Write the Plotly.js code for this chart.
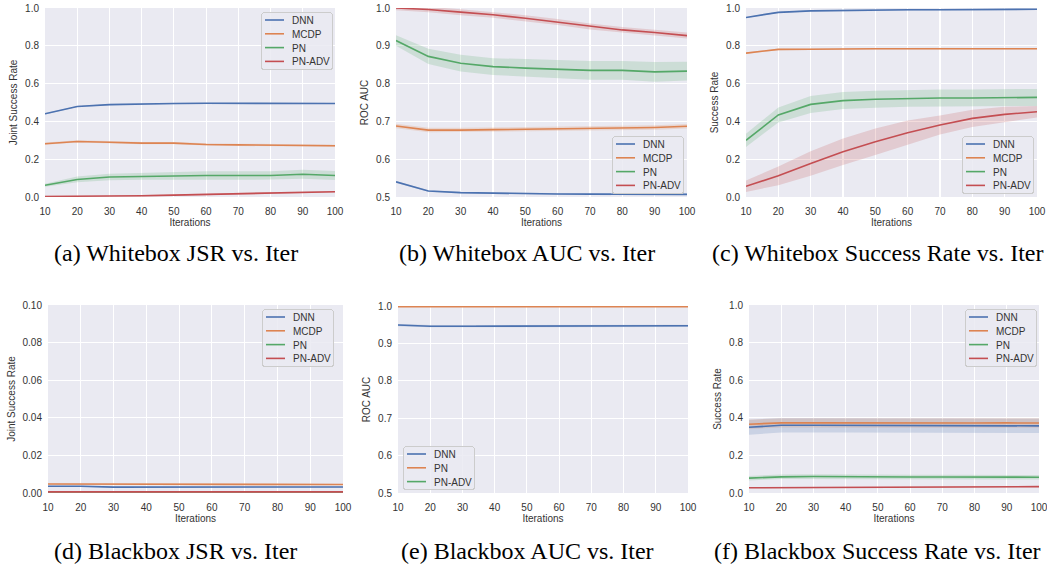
<!DOCTYPE html>
<html>
<head>
<meta charset="utf-8">
<script src="https://cdn.plot.ly/plotly-3.0.1.min.js"></script>
<style>
html,body{margin:0;padding:0;background:#fff;}
#chart{width:1047px;height:564px;}
</style>
</head>
<body>
<div id="chart"></div>
<script>
// ---------- data ----------
const iters = [10, 20, 30, 40, 50, 60, 70, 80, 90, 100];

// (a) Whitebox JSR
const wJsrDNN  = [0.440, 0.479, 0.489, 0.493, 0.495, 0.496, 0.496, 0.497, 0.498, 0.495];
const wJsrDNNErr = [0.003, 0.003, 0.003, 0.003, 0.003, 0.003, 0.003, 0.003, 0.003, 0.003];
const wJsrMCDP = [0.282, 0.294, 0.290, 0.285, 0.285, 0.278, 0.276, 0.273, 0.273, 0.271];
const wJsrMCDPErr = [0.006, 0.006, 0.006, 0.006, 0.006, 0.006, 0.006, 0.006, 0.006, 0.006];
const wJsrPN   = [0.062, 0.093, 0.106, 0.109, 0.113, 0.114, 0.114, 0.114, 0.120, 0.114];
const wJsrPNErr = [0.008, 0.015, 0.017, 0.018, 0.020, 0.022, 0.022, 0.022, 0.024, 0.024];
const wJsrADV  = [0.003, 0.003, 0.005, 0.007, 0.010, 0.013, 0.017, 0.021, 0.023, 0.028];
const wJsrADVErr = [0.003, 0.003, 0.003, 0.004, 0.004, 0.004, 0.004, 0.004, 0.004, 0.004];

// (b) Whitebox AUC
const wAucDNN  = [0.540, 0.516, 0.5115, 0.510, 0.509, 0.508, 0.5075, 0.507, 0.507, 0.507];
const wAucDNNErr = [0.002, 0.002, 0.002, 0.002, 0.002, 0.002, 0.002, 0.002, 0.002, 0.002];
const wAucMCDP = [0.688, 0.677, 0.677, 0.678, 0.679, 0.680, 0.681, 0.683, 0.684, 0.687];
const wAucMCDPErr = [0.006, 0.006, 0.006, 0.006, 0.006, 0.006, 0.006, 0.006, 0.006, 0.006];
const wAucPN   = [0.914, 0.872, 0.854, 0.845, 0.841, 0.838, 0.835, 0.835, 0.831, 0.833];
const wAucPNErr = [0.014, 0.020, 0.022, 0.022, 0.024, 0.024, 0.025, 0.025, 0.026, 0.025];
const wAucADV  = [1.000, 0.996, 0.989, 0.982, 0.973, 0.963, 0.951, 0.942, 0.935, 0.927];
const wAucADVErr = [0.006, 0.007, 0.008, 0.008, 0.008, 0.008, 0.008, 0.008, 0.008, 0.008];

// (c) Whitebox Success Rate
const wSrDNN  = [0.950, 0.977, 0.985, 0.988, 0.988, 0.991, 0.991, 0.992, 0.992, 0.993];
const wSrDNNErr = [0.003, 0.003, 0.003, 0.003, 0.003, 0.003, 0.003, 0.003, 0.003, 0.003];
const wSrMCDP = [0.761, 0.781, 0.782, 0.784, 0.784, 0.784, 0.786, 0.784, 0.784, 0.784];
const wSrMCDPErr = [0.004, 0.004, 0.004, 0.004, 0.004, 0.004, 0.004, 0.004, 0.004, 0.004];
const wSrPN   = [0.300, 0.434, 0.490, 0.510, 0.517, 0.522, 0.524, 0.524, 0.526, 0.527];
const wSrPNErr = [0.035, 0.040, 0.045, 0.045, 0.045, 0.045, 0.045, 0.045, 0.045, 0.045];
const wSrADV  = [0.057, 0.112, 0.177, 0.239, 0.292, 0.340, 0.381, 0.416, 0.437, 0.451];
const wSrADVErr = [0.030, 0.050, 0.065, 0.070, 0.070, 0.065, 0.050, 0.045, 0.040, 0.030];

// (d) Blackbox JSR
const bJsrDNN  = [0.0036, 0.0036, 0.0031, 0.0031, 0.0031, 0.0031, 0.0031, 0.0031, 0.0031, 0.0032];
const bJsrDNNErr = [0.0003, 0.0003, 0.0003, 0.0003, 0.0003, 0.0003, 0.0003, 0.0003, 0.0003, 0.0003];
const bJsrMCDP = [0.0048, 0.0048, 0.0044, 0.0045, 0.0045, 0.0044, 0.0045, 0.0045, 0.0044, 0.0045];
const bJsrMCDPErr = [0.0003, 0.0003, 0.0003, 0.0003, 0.0003, 0.0003, 0.0003, 0.0003, 0.0003, 0.0003];
const bJsrPN   = [0, 0, 0, 0, 0, 0, 0, 0, 0, 0];
const bJsrPNErr = [0, 0, 0, 0, 0, 0, 0, 0, 0, 0];
const bJsrADV  = [0.0006, 0.0006, 0.0006, 0.0006, 0.0006, 0.0006, 0.0006, 0.0006, 0.0006, 0.0006];
const bJsrADVErr = [0.0002, 0.0002, 0.0002, 0.0002, 0.0002, 0.0002, 0.0002, 0.0002, 0.0002, 0.0002];

// (e) Blackbox AUC
const bAucDNN = [0.949, 0.946, 0.946, 0.946, 0.946, 0.946, 0.946, 0.947, 0.947, 0.947];
const bAucDNNErr = [0.003, 0.003, 0.003, 0.003, 0.003, 0.003, 0.003, 0.003, 0.003, 0.003];
const bAucPN  = [0.998, 0.998, 0.998, 0.998, 0.998, 0.998, 0.998, 0.998, 0.998, 0.998];
const bAucPNErr = [0.001, 0.001, 0.001, 0.001, 0.001, 0.001, 0.001, 0.001, 0.001, 0.001];
const bAucADV = [null, null, null, null, null, null, null, null, null, null];
const bAucADVErr = [null, null, null, null, null, null, null, null, null, null];

// (f) Blackbox Success Rate
const bSrDNN  = [0.350, 0.360, 0.360, 0.360, 0.360, 0.359, 0.358, 0.357, 0.358, 0.357];
const bSrDNNErr = [0.040, 0.038, 0.038, 0.038, 0.038, 0.038, 0.038, 0.038, 0.038, 0.038];
const bSrMCDP = [0.366, 0.373, 0.373, 0.372, 0.372, 0.372, 0.372, 0.372, 0.373, 0.372];
const bSrMCDPErr = [0.025, 0.025, 0.025, 0.025, 0.025, 0.025, 0.025, 0.025, 0.025, 0.025];
const bSrPN   = [0.079, 0.086, 0.088, 0.086, 0.085, 0.085, 0.085, 0.084, 0.084, 0.084];
const bSrPNErr = [0.012, 0.012, 0.012, 0.012, 0.012, 0.012, 0.012, 0.012, 0.012, 0.012];
const bSrADV  = [0.028, 0.029, 0.030, 0.030, 0.031, 0.032, 0.032, 0.033, 0.033, 0.034];
const bSrADVErr = [0.003, 0.003, 0.003, 0.003, 0.003, 0.003, 0.003, 0.003, 0.003, 0.003];

const captions = [
  "(a) Whitebox JSR vs. Iter", "(b) Whitebox AUC vs. Iter", "(c) Whitebox Success Rate vs. Iter",
  "(d) Blackbox JSR vs. Iter", "(e) Blackbox AUC vs. Iter", "(f) Blackbox Success Rate vs. Iter"
];

// ---------- styling ----------
const palette = ["#4C72B0", "#DD8452", "#55A868", "#C44E52"];
const paletteRGB = ["76,114,176", "221,132,82", "85,168,104", "196,78,82"];
const W = 1047, H = 564;

// pixel boxes of each panel: [left, right, top, bottom]
const boxes = [
  [45, 335, 8, 197], [396, 687, 8, 197], [746, 1037, 8, 197],
  [48, 343, 305, 493], [398, 688, 306, 493], [749, 1039, 305, 493]
];
const captionPos = [[176, 253], [527, 253], [877, 253], [175, 551], [527, 551], [877, 551]];
const panels = [
  {ytitle: "Joint Success Rate", yr: [0, 1], dt: 0.2, fmt: ".1f",
   series: [["DNN", wJsrDNN, wJsrDNNErr], ["MCDP", wJsrMCDP, wJsrMCDPErr], ["PN", wJsrPN, wJsrPNErr], ["PN-ADV", wJsrADV, wJsrADVErr]],
   leg: {x: 332, y: 12, xa: "right", ya: "top"}},
  {ytitle: "ROC AUC", yr: [0.5, 1], dt: 0.1, fmt: ".1f",
   series: [["DNN", wAucDNN, wAucDNNErr], ["MCDP", wAucMCDP, wAucMCDPErr], ["PN", wAucPN, wAucPNErr], ["PN-ADV", wAucADV, wAucADVErr]],
   leg: {x: 683, y: 193, xa: "right", ya: "bottom"}},
  {ytitle: "Success Rate", yr: [0, 1], dt: 0.2, fmt: ".1f",
   series: [["DNN", wSrDNN, wSrDNNErr], ["MCDP", wSrMCDP, wSrMCDPErr], ["PN", wSrPN, wSrPNErr], ["PN-ADV", wSrADV, wSrADVErr]],
   leg: {x: 1033, y: 193, xa: "right", ya: "bottom"}},
  {ytitle: "Joint Success Rate", yr: [0, 0.1], dt: 0.02, fmt: ".2f",
   series: [["DNN", bJsrDNN, bJsrDNNErr], ["MCDP", bJsrMCDP, bJsrMCDPErr], ["PN", bJsrPN, bJsrPNErr], ["PN-ADV", bJsrADV, bJsrADVErr]],
   leg: {x: 333, y: 309, xa: "right", ya: "top"}},
  {ytitle: "ROC AUC", yr: [0.5, 1], dt: 0.1, fmt: ".1f",
   series: [["DNN", bAucDNN, bAucDNNErr], ["PN", bAucPN, bAucPNErr], ["PN-ADV", bAucADV, bAucADVErr]],
   leg: {x: 403, y: 489, xa: "left", ya: "bottom"}},
  {ytitle: "Success Rate", yr: [0, 1], dt: 0.2, fmt: ".1f",
   series: [["DNN", bSrDNN, bSrDNNErr], ["MCDP", bSrMCDP, bSrMCDPErr], ["PN", bSrPN, bSrPNErr], ["PN-ADV", bSrADV, bSrADVErr]],
   leg: {x: 1036, y: 309, xa: "right", ya: "top"}}
];

const font = "Liberation Sans, Arial, sans-serif";
const traces = [];
const layout = {
  width: W, height: H, margin: {l: 0, r: 0, t: 0, b: 0},
  paper_bgcolor: "#ffffff", plot_bgcolor: "#EAEAF2",
  font: {family: font, size: 10, color: "#333333"},
  annotations: [], showlegend: true
};

panels.forEach((p, i) => {
  const n = i + 1;
  const xa = n === 1 ? "x" : "x" + n, ya = n === 1 ? "y" : "y" + n;
  const legName = n === 1 ? "legend" : "legend" + n;
  const b = boxes[i];
  p.series.forEach((s, k) => {
    const [name, vals, err] = s;
    if (vals.every(v => v === null)) return;
    const up = vals.map((v, j) => v + err[j]);
    const lo = vals.map((v, j) => v - err[j]);
    traces.push({
      x: iters.concat(iters.slice().reverse()),
      y: up.concat(lo.slice().reverse()),
      xaxis: xa, yaxis: ya, type: "scatter", mode: "lines",
      fill: "toself", fillcolor: "rgba(" + paletteRGB[k] + ",0.2)",
      line: {width: 0}, hoverinfo: "skip", showlegend: false, legend: legName
    });
  });
  p.series.forEach((s, k) => {
    const [name, vals] = s;
    traces.push({
      x: iters, y: vals, name: name, xaxis: xa, yaxis: ya,
      type: "scatter", mode: "lines", line: {color: palette[k], width: 1.6},
      legend: legName, showlegend: true
    });
  });
  const axX = {
    domain: [b[0] / W, b[1] / W], anchor: ya, range: [10, 100],
    tickvals: iters, ticktext: iters.map(String), showgrid: true, gridcolor: "#ffffff", gridwidth: 1.2,
    zeroline: false, showline: false, ticks: "outside", ticklen: 5, tickcolor: "rgba(0,0,0,0)",
    ticklabeloverflow: "allow",
    tickfont: {size: 10, color: "#333"},
    title: {text: "Iterations", font: {size: 10, color: "#333"}, standoff: 2}
  };
  const yt = [];
  for (let v = p.yr[0]; v <= p.yr[1] + 1e-9; v += p.dt) yt.push(+v.toFixed(4));
  const axY = {
    domain: [1 - b[3] / H, 1 - b[2] / H], anchor: xa, range: p.yr,
    tickvals: yt, tickformat: p.fmt, showgrid: true, gridcolor: "#ffffff", gridwidth: 1.2,
    zeroline: false, showline: false, ticks: "outside", ticklen: 3, tickcolor: "rgba(0,0,0,0)",
    tickfont: {size: 10, color: "#333"},
    title: {text: p.ytitle, font: {size: 10, color: "#333"}, standoff: 5}
  };
  layout["xaxis" + (n === 1 ? "" : n)] = axX;
  layout["yaxis" + (n === 1 ? "" : n)] = axY;
  layout[legName] = {
    x: p.leg.x / W, y: 1 - p.leg.y / H, xanchor: p.leg.xa, yanchor: p.leg.ya,
    xref: "paper", yref: "paper",
    bgcolor: "rgba(234,234,242,0.85)", bordercolor: "#cccccc", borderwidth: 1,
    font: {family: font, size: 10, color: "#333"}, tracegroupgap: 0, itemwidth: 30
  };
  layout.annotations.push({
    text: captions[i], xref: "paper", yref: "paper",
    x: captionPos[i][0] / W, y: 1 - captionPos[i][1] / H, xanchor: "center", yanchor: "middle",
    showarrow: false, font: {family: "Liberation Serif, Times New Roman, serif", size: 24, color: "#000"}
  });
});

// compact the legends to a matplotlib-like spacing
function tidyLegends() {
  const gd = document.getElementById("chart");
  panels.forEach((p, i) => {
    const id = i === 0 ? "legend" : "legend" + (i + 1);
    const g = gd.querySelector("g.infolayer g." + id);
    if (!g) return;
    const items = g.querySelectorAll("g.traces");
    const w = 71, h = 14 * items.length + 1;
    const left = p.leg.xa === "right" ? p.leg.x - w : p.leg.x;
    const top = p.leg.ya === "bottom" ? p.leg.y - h : p.leg.y;
    g.setAttribute("transform", "translate(" + left + "," + top + ")");
    g.querySelectorAll("rect.bg").forEach(bg => {
      bg.setAttribute("x", 0.5); bg.setAttribute("y", 0.5);
      bg.setAttribute("width", w); bg.setAttribute("height", h);
      bg.setAttribute("rx", 3); bg.setAttribute("ry", 3);
    });
    g.querySelectorAll("g.scrollbox").forEach(sb => { sb.removeAttribute("clip-path"); sb.setAttribute("transform", "translate(0,0)"); });
    g.querySelectorAll("g.groups").forEach(gr => gr.setAttribute("transform", "translate(0,0)"));
    items.forEach((it, k) => {
      it.setAttribute("transform", "translate(0," + (8 + 13.8 * k) + ")");
      it.querySelectorAll("path.js-line").forEach(pa => pa.setAttribute("d", "M4,0h19"));
      it.querySelectorAll("text").forEach(t => {
        t.setAttribute("x", 31);
        t.querySelectorAll("tspan").forEach(ts => { if (ts.hasAttribute("x")) ts.setAttribute("x", 31); });
      });
      it.querySelectorAll("rect").forEach(tog => tog.setAttribute("width", w));
    });
  });
}

Plotly.newPlot("chart", traces, layout, {staticPlot: true, displayModeBar: false})
  .then(gd => {
    tidyLegends();
    gd.on("plotly_afterplot", tidyLegends);
    [0, 50, 200, 600].forEach(t => setTimeout(tidyLegends, t));
  });
</script>
</body>
</html>
